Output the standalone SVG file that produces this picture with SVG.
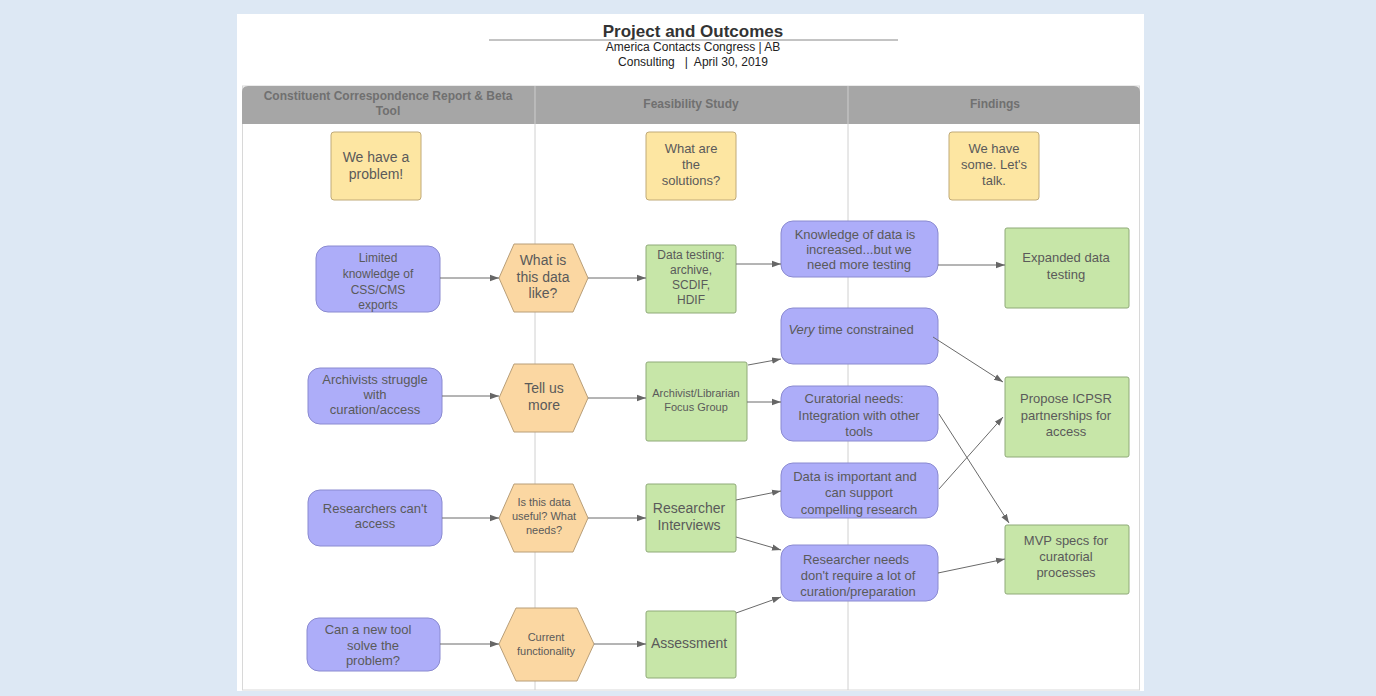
<svg xmlns="http://www.w3.org/2000/svg" width="1376" height="696" viewBox="0 0 1376 696">
<defs>
<marker id="ah" viewBox="0 0 10 10" refX="10" refY="5" markerWidth="9" markerHeight="9" markerUnits="userSpaceOnUse" orient="auto">
<path d="M0,1.5 L10,5 L0,8.5 Z" fill="#666"/>
</marker>
<style>
text{font-family:"Liberation Sans",Arial,sans-serif;fill:#5a5a5a;text-anchor:middle}
.p{fill:#adadf9;stroke:#8a8ad0;stroke-width:1}
.g{fill:#c7e6a8;stroke:#8faa78;stroke-width:1}
.o{fill:#fbd7a2;stroke:#b89e78;stroke-width:1}
.y{fill:#fde6a2;stroke:#c0aa78;stroke-width:1}
.c{stroke:#6a6a6a;stroke-width:1;fill:none;marker-end:url(#ah)}
.t14{font-size:14px}.t13{font-size:13px}.t12{font-size:12px}.t11{font-size:11px}
.h{font-size:12px;font-weight:bold;fill:#707070}
</style>
</defs>
<rect width="1376" height="696" fill="#dde8f4"/>
<rect x="237" y="14" width="907" height="677" fill="#ffffff"/>
<g id="title">
<text x="693" y="37" style="font-size:17px;font-weight:bold;fill:#333">Project and Outcomes</text>
<line x1="489" y1="40" x2="898" y2="40" stroke="#888" stroke-width="1"/>
<text x="693" y="51" style="font-size:12px;fill:#222">America Contacts Congress | AB</text>
<text x="693" y="66" style="font-size:12px;fill:#222;white-space:pre" xml:space="preserve">Consulting   |  April 30, 2019</text>
</g>
<g id="lanes">
<rect x="242.5" y="86" width="897" height="604" fill="#fff" stroke="#d8d8d8"/>
<path d="M242,124 V92 Q242,86 248,86 H1134 Q1140,86 1140,92 V124 Z" fill="#a6a6a6"/>
<line x1="535" y1="86" x2="535" y2="690" stroke="#d0d0d0"/>
<line x1="848" y1="86" x2="848" y2="690" stroke="#d0d0d0"/>
<line x1="535" y1="86" x2="535" y2="124" stroke="#b8b8b8"/>
<line x1="848" y1="86" x2="848" y2="124" stroke="#b8b8b8"/>
<text class="h" x="388" y="100">Constituent Correspondence Report &amp; Beta</text>
<text class="h" x="388" y="115">Tool</text>
<text class="h" x="691" y="108">Feasibility Study</text>
<text class="h" x="995" y="108">Findings</text>
</g>
<g id="n-problem"><rect class="y" x="331" y="132" width="90" height="68" rx="3"/>
<text class="t14" x="376" y="162">We have a</text><text class="t14" x="376" y="179">problem!</text></g>
<g id="n-solutions"><rect class="y" x="646" y="132" width="90" height="68" rx="3"/>
<text class="t13" x="691" y="153">What are</text><text class="t13" x="691" y="169">the</text><text class="t13" x="691" y="185">solutions?</text></g>
<g id="n-talk"><rect class="y" x="949" y="132" width="90" height="68" rx="3"/>
<text class="t13" x="994" y="153">We have</text><text class="t13" x="994" y="169">some. Let's</text><text class="t13" x="994" y="185">talk.</text></g>

<g id="n-limited"><rect class="p" x="316" y="246" width="124" height="66" rx="12"/>
<text class="t12" x="378" y="262">Limited</text><text class="t12" x="378" y="278">knowledge of</text><text class="t12" x="378" y="294">CSS/CMS</text><text class="t12" x="378" y="309">exports</text></g>
<g id="n-archivists"><rect class="p" x="308" y="368" width="134" height="56" rx="12"/>
<text class="t13" x="375" y="384">Archivists struggle</text><text class="t13" x="375" y="399">with</text><text class="t13" x="375" y="414">curation/access</text></g>
<g id="n-researchers"><rect class="p" x="308" y="490" width="134" height="56" rx="12"/>
<text class="t13" x="375" y="513">Researchers can't</text><text class="t13" x="375" y="528">access</text></g>
<g id="n-newtool"><rect class="p" x="307" y="618" width="133" height="53" rx="12"/>
<text class="t13" x="368" y="634">Can a new tool</text><text class="t13" x="373" y="650">solve the</text><text class="t13" x="373" y="665">problem?</text></g>

<g id="n-hex1"><polygon class="o" points="499,278 514,244 573,244 588,278 573,312 514,312"/>
<text class="t14" x="543" y="265">What is</text><text class="t14" x="543" y="282">this data</text><text class="t14" x="543" y="298">like?</text></g>
<g id="n-hex2"><polygon class="o" points="499,398 514,364 573,364 588,398 573,432 514,432"/>
<text class="t14" x="544" y="393">Tell us</text><text class="t14" x="544" y="410">more</text></g>
<g id="n-hex3"><polygon class="o" points="499,518 514,484 573,484 588,518 573,552 514,552"/>
<text class="t11" x="544" y="506">Is this data</text><text class="t11" x="544" y="520">useful? What</text><text class="t11" x="544" y="534">needs?</text></g>
<g id="n-hex4"><polygon class="o" points="499,644 516,608 577,608 594,644 577,681 516,681"/>
<text class="t11" x="546" y="641">Current</text><text class="t11" x="546" y="655">functionality</text></g>

<g id="n-datatesting"><rect class="g" x="646" y="245" width="90" height="68" rx="2"/>
<text class="t12" x="691" y="259">Data testing:</text><text class="t12" x="691" y="274">archive,</text><text class="t12" x="691" y="289">SCDIF,</text><text class="t12" x="691" y="304">HDIF</text></g>
<g id="n-focus"><rect class="g" x="646" y="362" width="101" height="79" rx="2"/>
<text class="t11" x="696" y="397">Archivist/Librarian</text><text class="t11" x="696" y="411">Focus Group</text></g>
<g id="n-interviews"><rect class="g" x="646" y="484" width="90" height="68" rx="2"/>
<text class="t14" x="689" y="513">Researcher</text><text class="t14" x="689" y="530">Interviews</text></g>
<g id="n-assessment"><rect class="g" x="646" y="611" width="90" height="67" rx="2"/>
<text class="t14" x="689" y="648">Assessment</text></g>

<g id="n-knowledge"><rect class="p" x="781" y="221" width="157" height="56" rx="12"/>
<text class="t13" x="855" y="239">Knowledge of data is</text><text class="t13" x="859" y="254">increased...but we</text><text class="t13" x="859" y="269">need more testing</text></g>
<g id="n-verytime"><rect class="p" x="781" y="308" width="157" height="56" rx="12"/>
<text class="t13" x="851" y="334"><tspan font-style="italic">Very</tspan> time constrained</text></g>
<g id="n-curatorial"><rect class="p" x="781" y="386" width="157" height="55" rx="12"/>
<text class="t13" x="854" y="403">Curatorial needs:</text><text class="t13" x="859" y="420">Integration with other</text><text class="t13" x="859" y="436">tools</text></g>
<g id="n-important"><rect class="p" x="781" y="463" width="157" height="55" rx="12"/>
<text class="t13" x="855" y="481">Data is important and</text><text class="t13" x="859" y="497">can support</text><text class="t13" x="859" y="514">compelling research</text></g>
<g id="n-needs"><rect class="p" x="781" y="545" width="157" height="56" rx="12"/>
<text class="t13" x="856" y="564">Researcher needs</text><text class="t13" x="858" y="580">don't require a lot of</text><text class="t13" x="858" y="596">curation/preparation</text></g>

<g id="n-expanded"><rect class="g" x="1005" y="228" width="124" height="80" rx="2"/>
<text class="t13" x="1066" y="262">Expanded data</text><text class="t13" x="1066" y="279">testing</text></g>
<g id="n-icpsr"><rect class="g" x="1005" y="377" width="124" height="80" rx="2"/>
<text class="t13" x="1066" y="403">Propose ICPSR</text><text class="t13" x="1066" y="420">partnerships for</text><text class="t13" x="1066" y="436">access</text></g>
<g id="n-mvp"><rect class="g" x="1005" y="525" width="124" height="69" rx="2"/>
<text class="t13" x="1066" y="545">MVP specs for</text><text class="t13" x="1066" y="561">curatorial</text><text class="t13" x="1066" y="577">processes</text></g>

<g id="connectors">
<line class="c" x1="440" y1="278" x2="499" y2="278"/>
<line class="c" x1="442" y1="396" x2="499" y2="396"/>
<line class="c" x1="442" y1="518" x2="499" y2="518"/>
<line class="c" x1="440" y1="644" x2="499" y2="644"/>
<line class="c" x1="588" y1="278" x2="646" y2="278"/>
<line class="c" x1="588" y1="398" x2="646" y2="398"/>
<line class="c" x1="588" y1="518" x2="646" y2="518"/>
<line class="c" x1="594" y1="644" x2="646" y2="644"/>
<line class="c" x1="736" y1="264" x2="781" y2="264"/>
<line class="c" x1="938" y1="265" x2="1005" y2="265"/>
<line class="c" x1="748" y1="365" x2="781" y2="359"/>
<line class="c" x1="747" y1="402" x2="781" y2="402"/>
<line class="c" x1="736" y1="500" x2="781" y2="491"/>
<line class="c" x1="736" y1="537" x2="781" y2="550"/>
<line class="c" x1="736" y1="613" x2="781" y2="597"/>
<line class="c" x1="933" y1="337" x2="1003" y2="382"/>
<line class="c" x1="939" y1="414" x2="1009" y2="523"/>
<line class="c" x1="939" y1="489" x2="1003" y2="417"/>
<line class="c" x1="938" y1="573" x2="1005" y2="559"/>
</g>
</svg>
